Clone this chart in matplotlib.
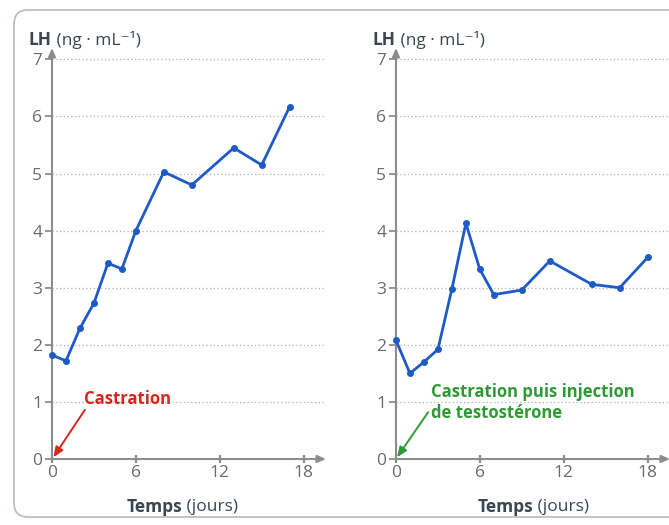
import matplotlib
matplotlib.use("Agg")
import matplotlib.pyplot as plt
from matplotlib.patches import FancyBboxPatch
from matplotlib.transforms import IdentityTransform

# LH concentration after castration (left) and after castration + testosterone (right)
left_days = [0, 1, 2, 3, 4, 5, 6, 8, 10, 13, 15, 17]
left_lh = [1.82, 1.72, 2.29, 2.73, 3.43, 3.33, 4.0, 5.03, 4.8, 5.45, 5.15, 6.17]

right_days = [0, 1, 2, 3, 4, 5, 6, 7, 9, 11, 14, 16, 18]
right_lh = [2.08, 1.5, 1.7, 1.92, 2.98, 4.13, 3.32, 2.88, 2.96, 3.47, 3.06, 3.0, 3.53]

x_ticks = [0, 6, 12, 18]
y_ticks = [0, 1, 2, 3, 4, 5, 6, 7]

plt.rcParams["font.family"] = ["Open Sans", "DejaVu Sans"]

LINE = "#1e5bc6"
AXIS = "#8c8c8c"
TICKTXT = "#6b6b6b"
LABEL = "#3a4651"

fig = plt.figure(figsize=(6.69, 5.25), dpi=100)

# light rounded frame around both panels
frame = FancyBboxPatch((14, 8), 700, 507, boxstyle="round,pad=0,rounding_size=14",
                       transform=IdentityTransform(), facecolor="none",
                       edgecolor="#b9bfc5", linewidth=1.3)
fig.patches.append(frame)

ax_l = fig.add_axes([0.0777, 0.1257, 0.4096, 0.7829])
ax_r = fig.add_axes([0.5919, 0.1257, 0.4096, 0.7829])


def style_axes(ax):
    ax.set_xlim(0, 19.6)
    ax.set_ylim(0, 7.2)
    for s in ax.spines.values():
        s.set_visible(False)
    ax.set_xticks(x_ticks)
    ax.set_yticks(y_ticks)
    ax.tick_params(axis="y", direction="out", length=5, width=1.3, color=AXIS,
                   labelcolor=TICKTXT, labelsize=12.5, pad=2)
    ax.tick_params(axis="x", direction="inout", length=6, width=1.6, color=AXIS,
                   labelcolor=TICKTXT, labelsize=12.5, pad=1)
    ax.grid(axis="y", linestyle=(0, (1, 2)), color="#b0b0b0", linewidth=0.9)
    ax.set_axisbelow(True)
    # axis lines with arrow heads
    ax.annotate("", xy=(1.0, 0), xytext=(0, 0), xycoords="axes fraction",
                arrowprops=dict(arrowstyle="-|>,head_length=0.5,head_width=0.22",
                                color=AXIS, lw=1.5, shrinkA=0, shrinkB=0))
    ax.annotate("", xy=(0, 1.0), xytext=(0, 0), xycoords="axes fraction",
                arrowprops=dict(arrowstyle="-|>,head_length=0.5,head_width=0.22",
                                color=AXIS, lw=1.5, shrinkA=0, shrinkB=0))


for ax, days, lh in [(ax_l, left_days, left_lh), (ax_r, right_days, right_lh)]:
    style_axes(ax)
    ax.plot(days, lh, color=LINE, linewidth=2.0, marker="o", markersize=4,
            clip_on=False, zorder=3)

# annotations
ax_l.text(2.3, 1.05, "Castration", color="#d9261c", fontsize=12,
          fontweight="bold", ha="left", va="center")
ax_l.annotate("", xy=(0.1, 0.03), xytext=(2.35, 0.86),
              arrowprops=dict(arrowstyle="-|>,head_length=0.6,head_width=0.25",
                              color="#d9261c", lw=1.4, shrinkA=0, shrinkB=0))

ax_r.text(2.5, 0.99, "Castration puis injection\nde testostérone", color="#2e9a35",
          fontsize=12, fontweight="bold", ha="left", va="center",
          linespacing=1.25)
ax_r.annotate("", xy=(0.08, 0.03), xytext=(2.3, 0.82),
              arrowprops=dict(arrowstyle="-|>,head_length=0.6,head_width=0.25",
                              color="#2e9a35", lw=1.4, shrinkA=0, shrinkB=0))

# y labels above axes: "LH" bold + unit regular
for x0 in [29 / 669, 373 / 669]:
    t = fig.text(x0, 0.924, "LH", fontsize=12.5, fontweight="bold", color=LABEL,
                 ha="left", va="center")
    fig.add_artist(plt.Annotation(" (ng · mL⁻¹)", xy=(1, 0), xycoords=t,
                                  fontsize=12.5, color=LABEL, ha="left",
                                  va="bottom"))

# x labels: "Temps" bold + "(jours)" regular
for xs in [182 / 669, 533 / 669]:
    fig.text(xs, 0.034, "Temps", fontsize=12.5, fontweight="bold", color=LABEL,
             ha="right", va="center")
    fig.text(xs, 0.034, " (jours)", fontsize=12.5, color=LABEL,
             ha="left", va="center")

fig.savefig("out.png", dpi=100)
